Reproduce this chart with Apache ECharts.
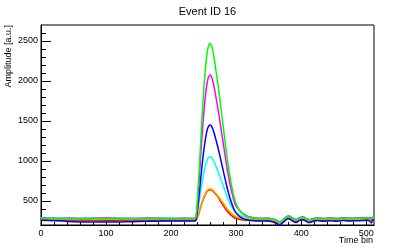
<!DOCTYPE html>
<html><head><meta charset="utf-8">
<script src="https://cdn.jsdelivr.net/npm/echarts@6/dist/echarts.min.js"></script>
<style>html,body{margin:0;padding:0;background:#fff}#c{width:415px;height:251px}</style>
</head><body><div id="c"></div>
<script>
// Time bins (shared x samples)
const bins = [0,10,20,30,40,60,80,100,120,140,160,180,200,220,234,
  236,238,240,242,244,246,248,250,252,254,256,258,260,262,264,266,268,270,273,276,279,282,285,288,291,294,297,300,304,308,312,316,320,326,332,340,
  348,356,362,367,372,378,381,386,392,398,403,408,412,418,425,435,445,455,465,475,485,495,503,508,510,512];

const red = [258,256,255,257,254,252,255,253,255,256,254,255,256,255,255,
  255,257,286,332,382,436,486,532,571,602,625,636,640,636,625,609,590,571,540,495,458,422,386,356,331,310,293,281,274,267,262,259,257,256,255,255,
  255,247,230,205,235,277,283,260,237,263,270,250,237,250,260,252,259,253,260,255,258,261,263,260,265,267];
const yellow = [280,278,276,279,277,275,278,276,277,279,276,277,278,276,278,
  278,280,308,353,402,455,504,549,587,617,640,651,655,651,640,625,606,587,557,523,489,455,421,391,365,342,323,310,299,291,286,283,281,280,278,278,
  278,270,253,228,258,300,306,283,260,286,293,273,260,273,283,275,282,276,283,278,281,284,286,283,288,290];
const orange = [272,270,271,269,268,270,269,271,270,268,270,271,269,270,270,
  270,272,300,346,395,449,498,544,582,612,635,646,650,646,635,620,601,582,551,517,483,449,414,384,357,335,316,302,291,283,278,275,273,272,270,270,
  270,262,245,220,250,292,298,275,252,278,285,265,252,265,275,267,274,268,275,270,273,276,278,275,280,282];
const cyan = [290,288,286,289,287,285,288,285,287,284,286,288,285,286,285,
  285,289,347,439,539,646,746,839,916,977,1023,1046,1054,1046,1023,992,954,916,854,785,716,646,577,516,462,416,377,350,327,312,302,295,291,288,285,285,
  287,279,262,238,268,309,315,292,269,295,302,282,269,282,292,284,291,285,292,287,290,293,295,292,297,299];
const blue = [262,258,255,252,245,238,236,237,238,242,246,248,250,250,250,
  250,256,346,490,646,814,970,1114,1234,1330,1402,1438,1450,1438,1402,1354,1294,1234,1138,1030,922,814,706,610,526,454,394,352,316,292,276,266,260,255,250,250,
  250,240,220,200,232,272,278,255,230,258,265,245,230,245,255,247,254,248,255,250,253,256,258,225,262,265];
const magenta = [282,284,283,280,285,281,283,286,282,280,284,283,281,283,282,
  282,291,425,641,874,1125,1358,1573,1752,1896,2003,2057,2075,2057,2003,1932,1842,1752,1609,1447,1286,1125,963,820,694,587,497,434,395,360,335,318,305,295,284,282,
  284,276,258,234,264,306,312,289,266,292,299,279,266,279,289,281,288,282,289,284,287,290,292,289,294,296];
const green = [285,283,280,282,279,278,281,279,280,282,280,279,281,280,280,
  280,291,455,718,1003,1309,1594,1857,2076,2251,2382,2448,2470,2448,2382,2295,2185,2076,1901,1704,1506,1309,1112,937,784,652,543,466,400,357,328,308,298,289,282,280,
  280,272,255,230,260,302,308,285,262,288,295,275,262,275,285,277,284,278,285,280,283,286,288,285,290,292];

const xMajor = [0,100,200,300,400,500];
const xMinor = [20,40,60,80,120,140,160,180,220,240,260,280,320,340,360,380,420,440,460,480];
const yMajor = [500,1000,1500,2000,2500];
const yMinor = [300,400,600,700,800,900,1100,1200,1300,1400,1600,1700,1800,1900,2100,2200,2300,2400,2600];

const titleText = 'Event ID 16';
const xTitle = 'Time bin';
const yTitle = 'Amplitude [a.u.]';

const seriesList = [
  ['red','#ff0000',red],['yellow','#ffff00',yellow],['orange','#ff9900',orange],
  ['cyan','#00ffff',cyan],['blue','#0000ff',blue],['magenta','#ff00ff',magenta],['green','#00ff00',green]
];

const FONT = 'Liberation Sans';
const chart = echarts.init(document.getElementById('c'), null, {renderer:'canvas'});
function xAx(major){
  return {type:'value',min:0,max:512,position:'bottom',
    axisLine:{show:true,onZero:false,lineStyle:{color:'#000',width:1}},
    axisTick:{show:true,inside:true,length:major?6:3,customValues:major?xMajor:xMinor,lineStyle:{color:'#000'}},
    axisLabel:{show:major,customValues:xMajor,margin:4,fontFamily:FONT,fontSize:9,color:'#000',formatter:v=>String(v)},
    splitLine:{show:false}};
}
function yAx(major){
  return {type:'value',min:200,max:2700,position:'left',
    axisLine:{show:true,onZero:false,lineStyle:{color:'#000',width:1}},
    axisTick:{show:true,inside:true,length:major?10:5,customValues:major?yMajor:yMinor,lineStyle:{color:'#000'}},
    axisLabel:{show:major,customValues:yMajor,margin:3,fontFamily:FONT,fontSize:9,color:'#000',formatter:v=>String(v)},
    splitLine:{show:false}};
}
chart.setOption({
  animation:false,
  title:{text:titleText,left:'center',top:1,textStyle:{fontFamily:FONT,fontSize:11,fontWeight:'normal',color:'#000'}},
  grid:{left:41,right:41,top:25,bottom:26,show:true,borderColor:'#000',borderWidth:1,backgroundColor:'#fff'},
  xAxis:[xAx(true),xAx(false)],
  yAxis:[yAx(true),yAx(false)],
  graphic:[
    {type:'text',right:42,top:236,style:{text:xTitle,font:'9px "Liberation Sans"',fill:'#000'}},
    {type:'text',left:4,top:25,rotation:Math.PI/2,originX:0,originY:0,
     style:{text:yTitle,font:'9px "Liberation Sans"',fill:'#000',align:'right',verticalAlign:'top'}}
  ],
  series:seriesList.map(([n,c,v])=>({name:n,type:'line',xAxisIndex:0,yAxisIndex:0,
    data:bins.map((b,i)=>[b,v[i]]),showSymbol:false,symbol:'none',
    lineStyle:{color:c,width:1.5},smooth:0.3}))
});
</script></body></html>
